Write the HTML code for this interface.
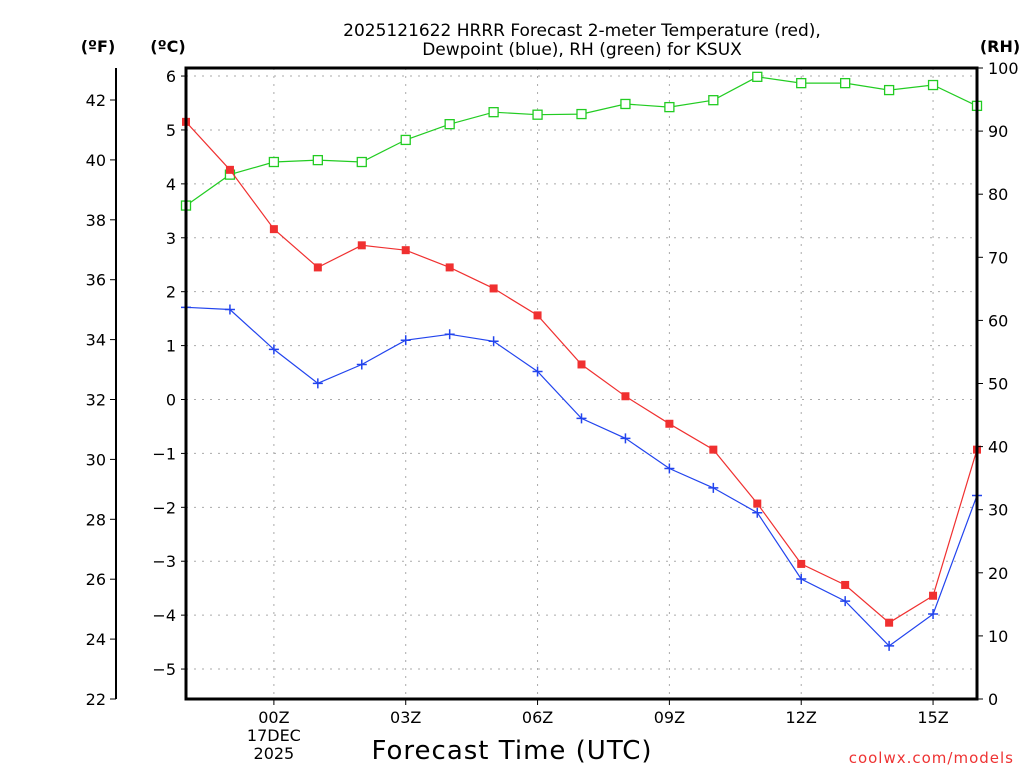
<!DOCTYPE html>
<html><head><meta charset="utf-8"><style>
body{margin:0;background:#fff;}
svg text{font-family:"DejaVu Sans","Liberation Sans",sans-serif;}
</style></head><body>
<svg id="chart" width="1024" height="768" xmlns="http://www.w3.org/2000/svg">
<g id="grid"></g>
<g id="series"></g>
<g id="axes"></g>
<text x="582" y="36" font-size="17" text-anchor="middle">2025121622 HRRR Forecast 2-meter Temperature (red),</text>
<text x="582" y="55" font-size="17" text-anchor="middle">Dewpoint (blue), RH (green) for KSUX</text>
<text x="98" y="52" font-size="16" font-weight="bold" text-anchor="middle">(ºF)</text>
<text x="168" y="52" font-size="16" font-weight="bold" text-anchor="middle">(ºC)</text>
<text x="1000" y="52" font-size="16" font-weight="bold" text-anchor="middle">(RH)</text>
<text x="512" y="759" font-size="26" text-anchor="middle" letter-spacing="1">Forecast Time (UTC)</text>
<text x="1014" y="763" font-size="15" fill="#e33" text-anchor="end" letter-spacing="1">coolwx.com/models</text>
</svg>
<script>
const hours = [22,23,0,1,2,3,4,5,6,7,8,9,10,11,12,13,14,15,16];
const tempC = [5.15,4.26,3.16,2.45,2.86,2.77,2.45,2.06,1.56,0.65,0.06,-0.45,-0.93,-1.93,-3.05,-3.44,-4.14,-3.64,-0.93];
const dewC = [1.71,1.67,0.93,0.30,0.65,1.10,1.21,1.08,0.52,-0.35,-0.72,-1.28,-1.64,-2.10,-3.33,-3.74,-4.57,-3.98,-1.78];
const rh = [78.2,83.1,85.1,85.4,85.1,88.6,91.1,93.0,92.6,92.7,94.3,93.8,94.9,98.6,97.6,97.6,96.5,97.3,94.0];
const cTicks = [6,5,4,3,2,1,0,-1,-2,-3,-4,-5];
const fTicks = [42,40,38,36,34,32,30,28,26,24,22];
const rhTicks = [100,90,80,70,60,50,40,30,20,10,0];
const xTickLabels = ["00Z","03Z","06Z","09Z","12Z","15Z"];
const xTickIndex = [2,5,8,11,14,17];

const L=186,R=977,T=68,B=699;
const NS="http://www.w3.org/2000/svg";
const xs = i => L + (R-L)*i/(hours.length-1);
const yF = f => 100 + (42-f)*(B-100)/20;
const yC = c => yF(c*9/5+32);
const yRH = v => B - (B-T)*v/100;
function mk(tag,attrs,parent,text){const e=document.createElementNS(NS,tag);for(const k in attrs)e.setAttribute(k,attrs[k]);if(text!==undefined)e.textContent=text;parent.appendChild(e);return e;}
const grid=document.getElementById('grid'),ser=document.getElementById('series'),ax=document.getElementById('axes');

cTicks.forEach(c=>{const y=yC(c);
 const g=mk('line',{x1:L,x2:R,y1:y,y2:y,stroke:'#aaa','stroke-dasharray':'2,6'},grid);
 
 
 mk('line',{x1:L-5,x2:L,y1:y,y2:y,stroke:'#000'},ax);
 const t=mk('text',{x:L-10,y:y+6,'font-size':16,'text-anchor':'end'},ax,c<0?'\u2212'+(-c):String(c));
 
 
});
xTickIndex.forEach((idx,k)=>{const x=xs(idx);
 const g=mk('line',{x1:x,x2:x,y1:T,y2:B,stroke:'#aaa','stroke-dasharray':'2,6'},grid);
 
 
 mk('line',{x1:x,x2:x,y1:B,y2:B+6,stroke:'#000'},ax);
 const t=mk('text',{x:x,y:723,'font-size':16,'text-anchor':'middle'},ax,xTickLabels[k]);
 
 
});
const d1=mk('text',{x:xs(2),y:741,'font-size':16,'text-anchor':'middle'},ax,'17DEC');


const d2=mk('text',{x:xs(2),y:759,'font-size':16,'text-anchor':'middle'},ax,'2025');



mk('line',{x1:116,x2:116,y1:T,y2:B,stroke:'#000','stroke-width':2},ax);
fTicks.forEach(f=>{const y=yF(f);
 mk('line',{x1:110,x2:116,y1:y,y2:y,stroke:'#000'},ax);
 const t=mk('text',{x:106,y:y+6,'font-size':16,'text-anchor':'end'},ax,String(f));
 
 
});
rhTicks.forEach(v=>{const y=yRH(v);
 mk('line',{x1:R,x2:R+6,y1:y,y2:y,stroke:'#000'},ax);
 const t=mk('text',{x:988,y:y+6,'font-size':16},ax,String(v));
 
 
});
const fr=mk('rect',{x:L,y:T,width:R-L,height:B-T,fill:'none',stroke:'#000','stroke-width':3},ax);



function series(vals,yfn,color,name,marker){
 const pts=vals.map((v,i)=>xs(i).toFixed(1)+','+yfn(v).toFixed(1)).join(' ');
 const pl=mk('polyline',{points:pts,fill:'none',stroke:color,'stroke-width':1.2},ser);
 
 
 vals.forEach((v,i)=>{const x=xs(i),y=yfn(v);let m;
  if(marker==='fill') m=mk('rect',{x:x-4,y:y-4,width:8,height:8,fill:color},ser);
  else if(marker==='open') m=mk('rect',{x:x-4.5,y:y-4.5,width:9,height:9,fill:'#fff',stroke:color,'stroke-width':1.3},ser);
  else m=mk('path',{d:`M${x-5} ${y}H${x+5}M${x} ${y-5}V${y+5}`,stroke:color,'stroke-width':1.5},ser);
  
  
 });
}
series(rh,yRH,'#22cc22','rh','open');
series(tempC,yC,'#f03030','temperature','fill');
series(dewC,yC,'#2244ee','dewpoint','plus');
</script>
</body></html>
